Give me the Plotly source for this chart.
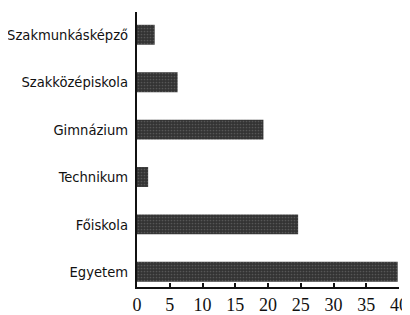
import plotly.graph_objects as go

categories = ["Egyetem", "Főiskola", "Technikum", "Gimnázium", "Szakközépiskola", "Szakmunkásképző"]
values = [39.8, 24.6, 1.7, 19.3, 6.2, 2.7]
x_ticks = [0, 5, 10, 15, 20, 25, 30, 35, 40]

LABEL_FONT = "DejaVu Sans Condensed, DejaVu Sans, sans-serif"
TICK_FONT = "Liberation Serif, DejaVu Serif, serif"

fig = go.Figure(go.Bar(
    x=values, y=categories, orientation="h",
    marker=dict(
        color="#333333", line=dict(width=0),
        pattern=dict(shape=".", fgcolor="#7a7a7a", bgcolor="#333333", size=3, solidity=0.25),
    ),
    width=0.42,
))

fig.update_layout(
    width=402, height=307,
    margin=dict(l=129, r=11, t=4, b=27.5),
    paper_bgcolor="white", plot_bgcolor="white",
    showlegend=False,
    font=dict(family=LABEL_FONT, color="#111", size=15),
)
fig.update_xaxes(
    range=[0, 40], tickvals=x_ticks, ticktext=[str(v) for v in x_ticks],
    showgrid=False, zeroline=False, automargin=False,
    showline=True, linecolor="#111", linewidth=2,
    ticks="inside", ticklen=4, tickwidth=1.5, tickcolor="#111",
    tickfont=dict(family=TICK_FONT, size=18, color="#111"),
)
fig.update_yaxes(
    type="category", categoryorder="array", categoryarray=categories,
    range=[-0.32, 5.48],
    showgrid=False, zeroline=False, automargin=False,
    showline=True, linecolor="#111", linewidth=2,
    ticks="", ticklabelstandoff=4,
    tickfont=dict(family=LABEL_FONT, size=14.6, color="#111"),
)

fig.write_html("out.html")
